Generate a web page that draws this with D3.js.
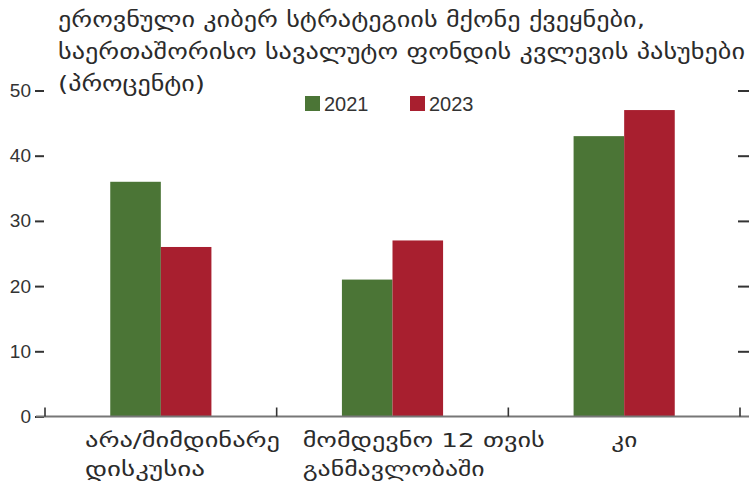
<!DOCTYPE html>
<html>
<head>
<meta charset="utf-8">
<script src="https://cdn.jsdelivr.net/npm/d3@7"></script>
<style>
  html, body { margin: 0; padding: 0; background: #fff; }
  svg { display: block; }
  .num { font-family: "Liberation Sans Narrow", "Liberation Sans", Arial, sans-serif; fill: #333; }
  .geo { font-family: "DejaVu Sans", sans-serif; fill: #2b2b2b; }
</style>
</head>
<body>
<svg id="chart" width="749" height="490"></svg>
<script>
// Survey answers: countries with a national cyber strategy (percent)
const categories = [
  ["არა/მიმდინარე", "დისკუსია"],
  ["მომდევნო 12 თვის", "განმავლობაში"],
  ["კი"]
];
const years = ["2021", "2023"];
const values2021 = [36, 21, 43];
const values2023 = [26, 27, 47];
const yTicks = [0, 10, 20, 30, 40, 50];
const titleLines = [
  "ეროვნული კიბერ სტრატეგიის მქონე ქვეყნები,",
  "საერთაშორისო სავალუტო ფონდის კვლევის პასუხები",
  "(პროცენტი)"
];

const colors = { "2021": "#4b7536", "2023": "#a81f2f" };
const seriesByYear = { "2021": values2021, "2023": values2023 };

const svg = d3.select("#chart");
const W = 749, H = 490;
const plotLeft = 45, plotRight = 740, plotTop = 90.5, plotBottom = 416.5;

const catKeys = categories.map(c => c.join(" "));
const x = d3.scaleBand().domain(catKeys).range([plotLeft, plotRight]).paddingInner(0).paddingOuter(0);
const x1 = d3.scaleBand().domain(years).range([0, x.bandwidth()]).paddingInner(0).paddingOuter(1.29);
const y = d3.scaleLinear().domain([0, 50]).range([plotBottom, plotTop]);

// Bars
const groups = svg.append("g").selectAll("g")
  .data(catKeys)
  .join("g")
  .attr("transform", d => `translate(${x(d)},0)`);

groups.selectAll("rect")
  .data((d, i) => years.map(yr => ({ yr, v: seriesByYear[yr][i] })))
  .join("rect")
  .attr("x", d => x1(d.yr))
  .attr("width", x1.bandwidth())
  .attr("y", d => y(d.v))
  .attr("height", d => y(0) - y(d.v))
  .attr("fill", d => colors[d.yr]);

// Left axis
const leftAxis = svg.append("g")
  .attr("transform", `translate(${plotLeft - 1},0)`)
  .call(d3.axisLeft(y).tickValues(yTicks).tickSize(9).tickPadding(4));
leftAxis.select(".domain").remove();
leftAxis.selectAll(".tick line").attr("stroke", "#333").attr("stroke-width", 2);
leftAxis.selectAll(".tick text").attr("class", "num").attr("font-size", 19).attr("fill", "#333")
  .style("font-family", '"Liberation Sans Narrow", "Liberation Sans", Arial, sans-serif');

// Right axis ticks
const rightAxis = svg.append("g")
  .attr("transform", `translate(${plotRight - 2},0)`)
  .call(d3.axisRight(y).tickValues(yTicks.filter(t => t > 0)).tickSize(11).tickFormat(""));
rightAxis.select(".domain").remove();
rightAxis.selectAll(".tick line").attr("stroke", "#333").attr("stroke-width", 2);

// Baseline
svg.append("line")
  .attr("x1", 36).attr("x2", W)
  .attr("y1", y(0)).attr("y2", y(0))
  .attr("stroke", "#777").attr("stroke-width", 2.2);

// Category boundary ticks
const bounds = [x(catKeys[0])].concat(catKeys.map(k => x(k) + x.bandwidth()));
svg.append("g").selectAll("line")
  .data(bounds)
  .join("line")
  .attr("x1", d => d).attr("x2", d => d)
  .attr("y1", y(0)).attr("y2", y(0) - 9)
  .attr("stroke", "#333").attr("stroke-width", 1.6);

// Category labels (left-aligned blocks under each group)
const labelDx = [40, 26, 103];
const labelWidths = [[195, 120], [242, 182], [26]];
const catLabels = svg.append("g").selectAll("text")
  .data(categories)
  .join("text")
  .attr("class", "geo")
  .attr("font-size", 20)
  .attr("y", 447);
catLabels.selectAll("tspan")
  .data((d, i) => d.map((line, j) => ({ line, i, j })))
  .join("tspan")
  .attr("x", d => x(catKeys[d.i]) + labelDx[d.i])
  .attr("dy", d => d.j === 0 ? 0 : 29)
  .attr("textLength", d => labelWidths[d.i][d.j])
  .attr("lengthAdjust", "spacingAndGlyphs")
  .text(d => d.line);

// Title
const titleWidths = [587, 687, 147];
svg.append("g").selectAll("text")
  .data(titleLines)
  .join("text")
  .attr("class", "geo")
  .attr("font-size", 21)
  .attr("x", 58)
  .attr("y", (d, i) => 27 + i * 32)
  .attr("textLength", (d, i) => titleWidths[i])
  .attr("lengthAdjust", "spacingAndGlyphs")
  .text(d => d);

// Legend
const legend = svg.append("g").selectAll("g")
  .data(years)
  .join("g")
  .attr("transform", (d, i) => `translate(${305 + i * 105},96)`);
legend.append("rect")
  .attr("width", 15).attr("height", 15)
  .attr("fill", d => colors[d]);
legend.append("text")
  .attr("class", "num")
  .attr("x", 19).attr("y", 15)
  .attr("font-size", 20)
  .text(d => d);
</script>
</body>
</html>
